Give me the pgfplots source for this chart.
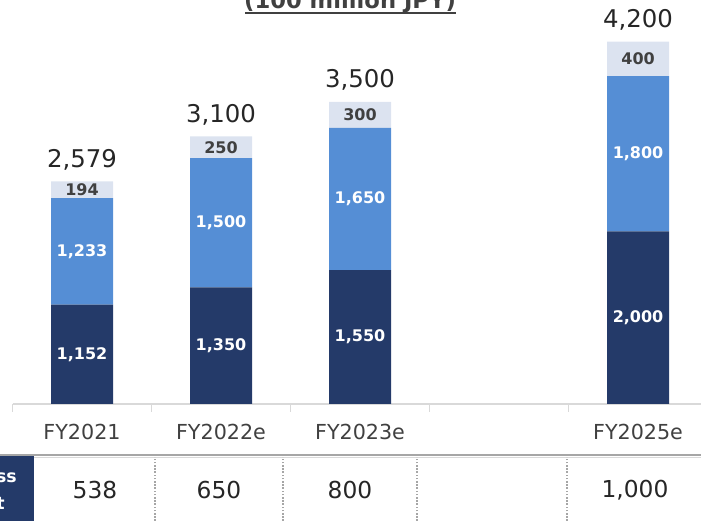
\documentclass[border=0pt]{standalone}
\usepackage{pgfplots}
\usepackage{pgfplotstable}
\pgfplotsset{compat=1.18}
\usepackage{fontspec}
\setmainfont{DejaVu Sans}

\definecolor{navy}{HTML}{243A69}
\definecolor{midblue}{HTML}{558ED5}
\definecolor{paleblue}{HTML}{DCE3F0}
\definecolor{axisgray}{HTML}{D9D9D9}
\definecolor{rulegray}{HTML}{A6A6A6}
\definecolor{txtdark}{HTML}{262626}
\definecolor{txtgray}{HTML}{404040}

% segment values per fiscal year (100 million JPY); x = slot on the axis
\pgfplotstableread{
x  a     b     c
0  1152  1233  194
1  1350  1500  250
2  1550  1650  300
4  2000  1800  400
}\salesdata

\pgfplotsset{
  frame/.style={
    at={(9.375pt,87.75pt)}, anchor=south west,
    scale only axis, width=516.4pt, height=310.7pt,
    xmin=-0.5, xmax=4.453, ymin=0, ymax=4800,
    clip=false,
  },
  /pgf/number format/.cd, 1000 sep={,}, assume math mode=true,
}

\begin{document}
\begin{tikzpicture}[x=0.75pt,y=0.75pt]
\useasboundingbox (0,0) rectangle (701,521);
\clip (0,0) rectangle (701,521);

% unit caption
\node[anchor=base, font=\fontsize{17}{20}\selectfont\bfseries, text=txtgray, inner sep=0pt]
  at (350,512) {(100 million JPY)};
\draw[txtgray, line width=1.1pt] (245,508) -- (456,508);

% stacked bars
\begin{axis}[frame,
  ybar stacked, bar width=46.5pt,
  axis y line=none, axis x line*=bottom,
  x axis line style={draw=axisgray, line width=1pt},
  xtick={0,1,2,4}, xticklabels={FY2021,FY2022e,FY2023e,FY2025e},
  major tick length=0pt,
  extra x ticks={-0.5,0.5,1.5,2.5,3.5},
  extra x tick labels={},
  extra x tick style={major tick length=6pt, tick align=outside,
    tick style={draw=axisgray, line width=1pt}},
  xticklabel style={font=\fontsize{15.5}{18}\selectfont, text=txtgray,
    anchor=base, yshift=-27pt},
]
\addplot[fill=navy, draw=none] table[x=x, y=a] {\salesdata};
\addplot[fill=midblue, draw=none] table[x=x, y=b] {\salesdata};
\addplot[fill=paleblue, draw=none] table[x=x, y=c] {\salesdata};
\end{axis}

% value labels
\begin{axis}[frame, hide axis,
  nodes near coords={\pgfmathprintnumber{\pgfplotspointmeta}},
]
\addplot[draw=none, mark=none, point meta=explicit,
  nodes near coords style={anchor=center, text=white,
    font=\fontsize{12}{14}\selectfont\bfseries}]
  table[x=x, y expr=\thisrow{a}/2, meta=a] {\salesdata};
\addplot[draw=none, mark=none, point meta=explicit,
  nodes near coords style={anchor=center, text=white,
    font=\fontsize{12}{14}\selectfont\bfseries}]
  table[x=x, y expr=\thisrow{a}+\thisrow{b}/2, meta=b] {\salesdata};
\addplot[draw=none, mark=none, point meta=explicit,
  nodes near coords style={anchor=center, text=txtgray,
    font=\fontsize{12}{14}\selectfont\bfseries}]
  table[x=x, y expr=\thisrow{a}+\thisrow{b}+\thisrow{c}/2, meta=c] {\salesdata};
\addplot[draw=none, mark=none, point meta=y,
  nodes near coords style={anchor=base, yshift=10.5pt, text=txtdark,
    font=\fontsize{18.3}{21}\selectfont}]
  table[x=x, y expr=\thisrow{a}+\thisrow{b}+\thisrow{c}] {\salesdata};
\end{axis}

% gross profit row
\fill[navy] (0,0) rectangle (34,66);
\node[anchor=base east, inner sep=0pt, text=white, font=\fontsize{13}{15}\selectfont\bfseries]
  at (17,38) {Gross};
\node[anchor=base east, inner sep=0pt, text=white, font=\fontsize{13}{15}\selectfont\bfseries]
  at (5,11) {profit};
\draw[rulegray, line width=1.4pt] (0,66) -- (701,66);
\draw[axisgray, line width=0.8pt] (34,63.5) -- (701,63.5);
\foreach \xx in {155,283,417,567}
  \draw[rulegray, line width=0.8pt, dash pattern=on 1.2pt off 1.2pt] (\xx,0) -- (\xx,64);
\foreach \xx/\val in {95/538,219/650,350/800,635/{1,000}}
  \node[anchor=center, inner sep=0pt, text=txtdark, font=\fontsize{17.5}{20}\selectfont]
    at (\xx,31) {\val};
\end{tikzpicture}
\end{document}
